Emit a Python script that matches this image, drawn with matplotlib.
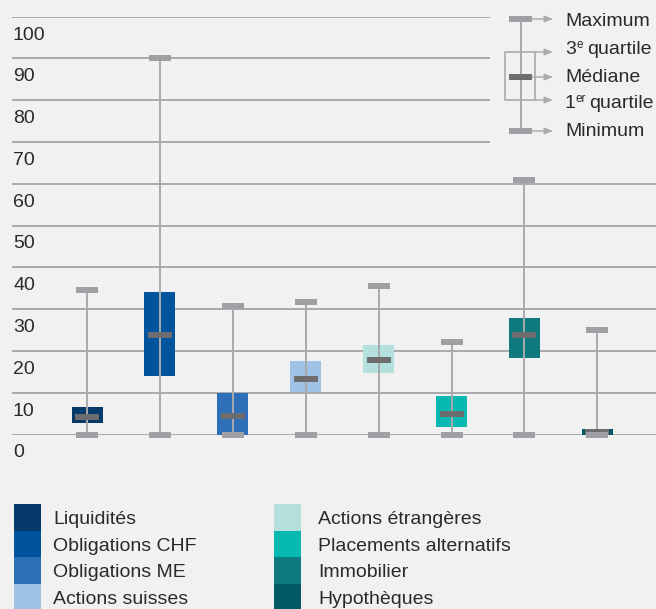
import matplotlib
matplotlib.use('Agg')
import matplotlib.pyplot as plt
from matplotlib.patches import Rectangle
from matplotlib import rcParams

rcParams['font.family'] = ['Liberation Sans', 'DejaVu Sans']

# données (en %)
categories = ['Liquidités', 'Obligations CHF', 'Obligations ME', 'Actions suisses',
              'Actions étrangères', 'Placements alternatifs', 'Immobilier', 'Hypothèques']
minimum = [0, 0, 0, 0, 0, 0, 0, 0]
q1 = [2.7, 13.9, 0, 10.1, 14.7, 1.8, 18.3, 0]
mediane = [4.1, 23.7, 4.4, 13.4, 17.9, 4.8, 23.7, 0.6]
q3 = [6.7, 34.0, 10.0, 17.5, 21.5, 9.3, 28.0, 1.4]
maximum = [34.7, 90, 30.7, 31.6, 35.6, 22.2, 61, 24.9]
couleurs = ['#053a6a', '#00549e', '#2d70b8', '#a0c2e5',
            '#b3e0dc', '#07b9b0', '#0e7a80', '#035a64']
yticks = [0, 10, 20, 30, 40, 50, 60, 70, 80, 90, 100]

bg = '#f1f1f1'
gris_ligne = '#aaaaac'
gris_cap = '#a0a0a4'
gris_med = '#6d6d70'
txt = '#2a2a2a'

W, H = 656, 609
fig = plt.figure(figsize=(W / 100, H / 100), dpi=100, facecolor=bg)

# axe principal : 0 -> y=434.5 px, 100 -> y=16.7 px ; catégories espacées de 72.9 px à partir de x=87
y0 = (H - 434.5) / H
y1 = (H - 16.7) / H
ax = fig.add_axes([0, y0, 1, y1 - y0], facecolor='none')
pas = 72.9
ax.set_xlim(-87 / pas, (W - 87) / pas)
ax.set_ylim(0, 100)
ax.axis('off')

# lignes de grille
for v in yticks:
    xmax = 489 / W if v >= 70 else 1.0
    ax.axhline(v, xmin=13 / W, xmax=xmax, color=gris_ligne, lw=1.4, zorder=1)
    ax.text(13 / W, v - 4.4, str(v), transform=ax.get_yaxis_transform(),
            ha='left', va='center', fontsize=14, color=txt)

x = list(range(len(categories)))
lw6 = 6 * 72 / 100  # 6 px en points

ax.bar(x, [b - a for a, b in zip(q1, q3)], bottom=q1, width=31 / pas,
       color=couleurs, zorder=2)
ax.vlines(x, minimum, maximum, color=gris_ligne, lw=1.4, zorder=3)
ax.hlines(mediane, [i - 12 / pas for i in x], [i + 12 / pas for i in x],
          color=gris_med, lw=lw6, zorder=4, clip_on=False)
for vals in (maximum, minimum):
    ax.hlines(vals, [i - 11 / pas for i in x], [i + 11 / pas for i in x],
              color=gris_cap, lw=lw6, zorder=5, clip_on=False)

# calque en pixels pour les légendes
lg = fig.add_axes([0, 0, 1, 1], facecolor='none')
lg.set_xlim(0, W)
lg.set_ylim(H, 0)
lg.axis('off')

# légende du diagramme en boîte
lg.plot([521, 521], [19, 131], color=gris_ligne, lw=1.4)
lg.add_patch(Rectangle((505, 52), 30, 48, fill=False, edgecolor=gris_ligne, lw=1.2))
lg.plot([509, 532], [19, 19], color=gris_cap, lw=lw6, solid_capstyle='butt')
lg.plot([509, 532], [131, 131], color=gris_cap, lw=lw6, solid_capstyle='butt')
lg.plot([509, 532], [77, 77], color=gris_med, lw=lw6, solid_capstyle='butt')
fleches = [(532, 19), (535, 52), (532, 77), (535, 100), (532, 131)]
for xs, yy in fleches:
    lg.annotate('', xy=(553, yy), xytext=(xs, yy),
                arrowprops=dict(arrowstyle='-|>,head_length=0.5,head_width=0.2',
                                color=gris_ligne, lw=1.0, shrinkA=0, shrinkB=0))

lg.text(565, 22, 'Maximum', ha='left', va='center', fontsize=14, color=txt)
lg.text(565, 50, '3', ha='left', va='center', fontsize=14, color=txt)
lg.text(576.5, 45, 'e', ha='left', va='center', fontsize=8.5, color=txt)
lg.text(587, 50, 'quartile', ha='left', va='center', fontsize=14, color=txt)
lg.text(565, 77, 'Médiane', ha='left', va='center', fontsize=14, color=txt)
lg.text(565, 104, '1', ha='left', va='center', fontsize=14, color=txt)
lg.text(575.5, 99, 'er', ha='left', va='center', fontsize=8.5, color=txt)
lg.text(589, 104, 'quartile', ha='left', va='center', fontsize=14, color=txt)
lg.text(565, 132, 'Minimum', ha='left', va='center', fontsize=14, color=txt)

# légende des catégories
for i, (nom, c) in enumerate(zip(categories, couleurs)):
    col, row = divmod(i, 4)
    xs = 14 if col == 0 else 274
    xt = 53 if col == 0 else 318
    top = 504 + row * 26.7
    lg.add_patch(Rectangle((xs, top), 27, 26.7, facecolor=c, edgecolor='none'))
    lg.text(xt, top + 15.5, nom, ha='left', va='center', fontsize=14, color=txt)

fig.savefig('out.png', dpi=100, facecolor=bg)
